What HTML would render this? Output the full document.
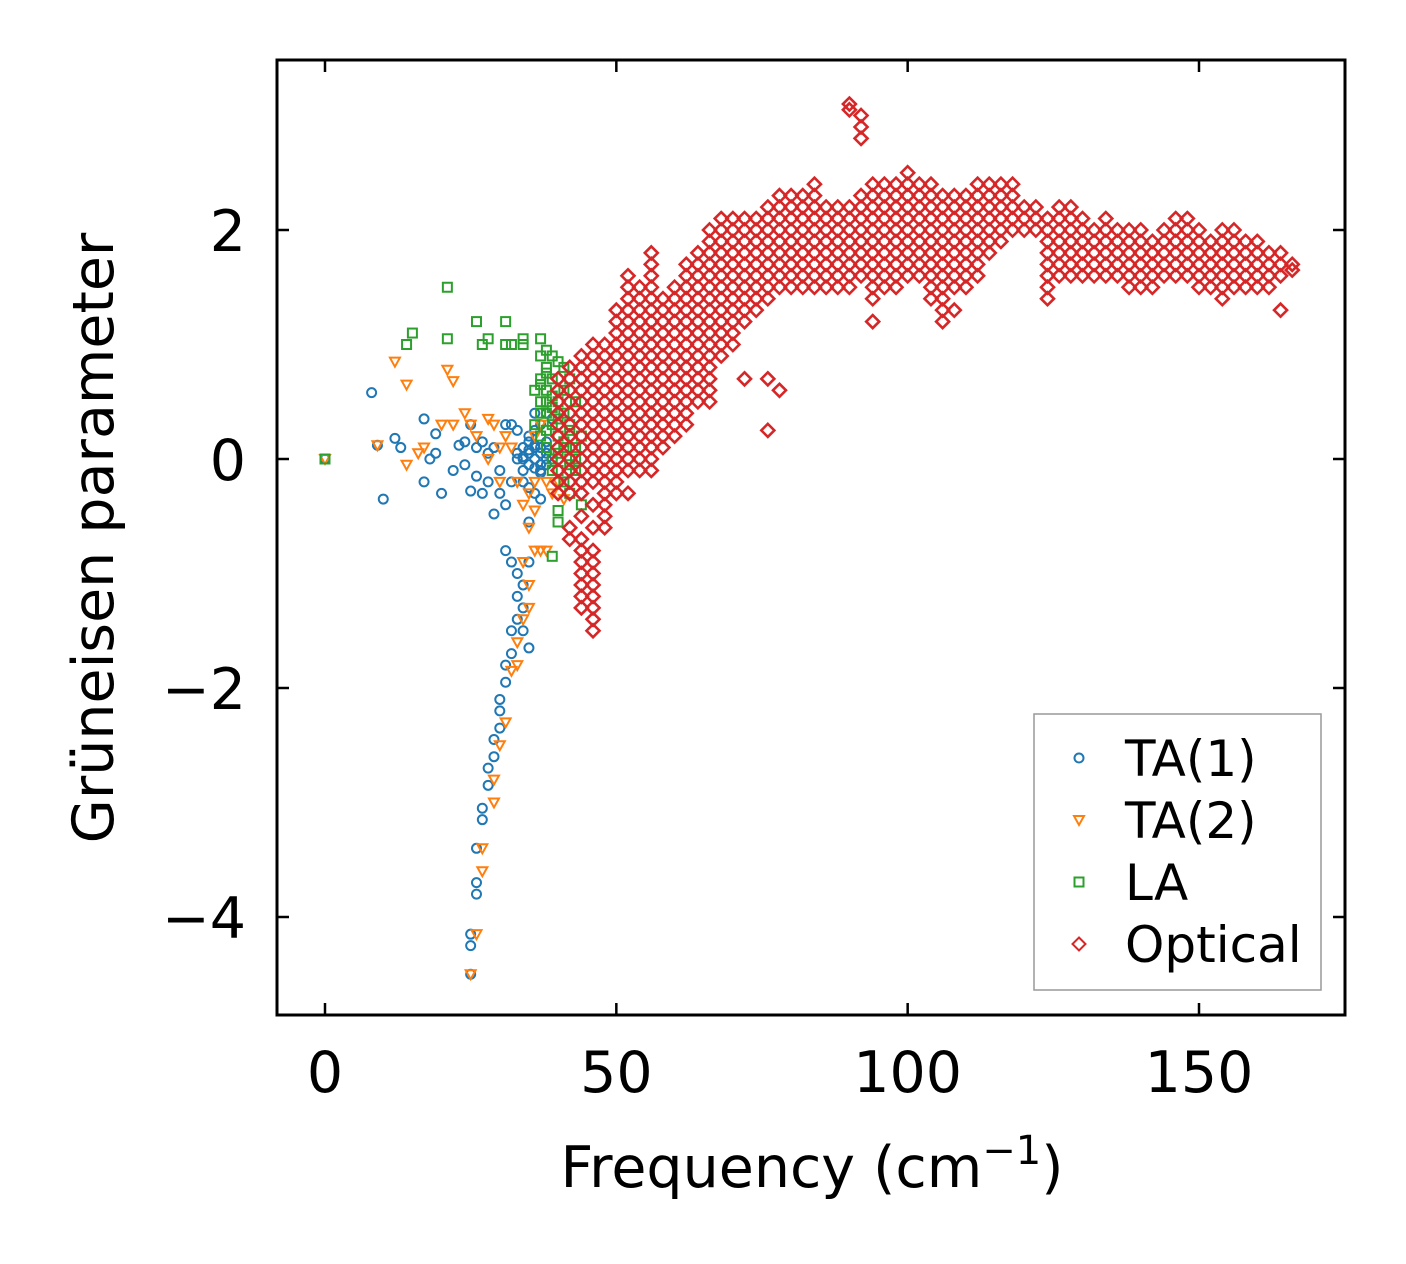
<!DOCTYPE html>
<html><head><meta charset="utf-8">
<style>
html,body{margin:0;padding:0;background:#fff;}
svg{display:block;font-family:"DejaVu Sans","Liberation Sans",sans-serif;}
</style></head>
<body>
<svg id="chart" width="1406" height="1264" viewBox="0 0 1406 1264" xmlns="http://www.w3.org/2000/svg">
<rect x="0" y="0" width="1406" height="1264" fill="#fff"/>
<g id="marks"></g>
<g id="axes"></g>
</svg>
<script>
// ---- data ----
const xTicks = [0, 50, 100, 150];
const yTicks = [2, 0, -2, -4];
const seriesNames = ["TA(1)", "TA(2)", "LA", "Optical"];

const ta1X = [0,8,9,10,12,13,17,17,18,19,19,20,22,23,24,24,25,25,26,26,27,27,28,28,29,29,30,30,31,31,32,32,33,33,34,34,35,35,36,36,37,37,38,38,35,
  31,32,33,33,34,33,32,32,31,31,30,30,30,29,29,28,28,27,27,26,26,26,25,25,25,34,35,35,34,36,37,35,34,
  33,34,35,36,37,38,39,36,37,38,35,36,37,38,39,34,35,36,37,38];
const ta1Y = [0,0.58,0.12,-0.35,0.18,0.1,0.35,-0.2,0,0.22,0.05,-0.3,-0.1,0.12,0.15,-0.05,-0.28,0.3,0.1,-0.15,-0.3,0.15,-0.2,0.05,-0.48,0.1,-0.3,-0.1,0.3,-0.4,0.3,-0.2,0.25,0,0.1,-0.1,0.05,-0.05,0,0.4,0.1,-0.1,0,0.05,-0.55,
  -0.8,-0.9,-1.0,-1.2,-1.3,-1.4,-1.5,-1.7,-1.8,-1.95,-2.1,-2.2,-2.35,-2.45,-2.6,-2.7,-2.85,-3.05,-3.15,-3.4,-3.7,-3.8,-4.25,-4.5,-4.15,-1.1,-1.65,-0.9,-1.5,0.1,-0.05,0.15,0.0,
  0.05,0.02,0.08,0.12,0.05,0.1,0.0,-0.08,-0.12,-0.05,0.2,0.25,0.3,0.15,0.35,-0.2,-0.25,-0.3,-0.35,0.4];

const ta2X = [0,9,12,14,14,16,17,20,21,22,22,24,25,26,28,28,29,30,30,31,32,33,34,35,35,36,36,37,38,34,35,35,34,33,33,32,31,30,29,29,27,27,26,25,36,37,38,39,40,41,36];
const ta2Y = [0,0.12,0.85,0.65,-0.05,0.05,0.1,0.3,0.78,0.68,0.3,0.4,0.3,0.2,0.35,0,0.3,0.1,-0.2,0.2,0.1,-0.2,-0.4,-0.3,-0.6,-0.45,-0.8,-0.8,-0.8,-0.9,-1.1,-1.3,-1.4,-1.6,-1.8,-1.85,-2.3,-2.5,-2.8,-3.0,-3.4,-3.6,-4.15,-4.5,0.2,0.3,-0.2,-0.3,-0.2,-0.35,-0.2];

const laX = [0,14,15,21,21,26,27,28,31,31,32,34,34,37,37,38,39,40,38,37,36,37,38,39,40,41,39,40,41,42,40,41,42,43,42,40,40,44,39,38,39,40,41,42,43,43,39,38,44,42,41,36,37,38,39,40,41,42,43,37,38,39,37,38];
const laY = [0,1.0,1.1,1.5,1.05,1.2,1.0,1.05,1.2,1.0,1.0,1.05,1.0,1.05,0.9,0.95,0.9,0.85,0.8,0.7,0.6,0.5,0.6,0.7,0.5,0.4,0.3,0.2,0.1,0,-0.1,-0.2,0.3,0.1,-0.3,-0.45,-0.55,-0.4,-0.85,0.4,0,0.05,0.6,0.7,0.5,-0.1,-0.1,0.1,0.2,-0.05,0.8,0.3,0.2,0.25,0.45,0.35,0.15,0.25,0.0,0.65,0.75,0.55,0.4,0.5];

const opticalX = [40,42,44,46,48,50,52,54,56,58,60,62,64,66,68,70,72,74,76,78,80,82,84,86,88,90,92,94,96,98,100,102,104,106,108,110,112,114,116,118,120,122,124,126,128,130,132,134,136,138,140,142,144,146,148,150,152,154,156,158,160,162,164,166];
const opticalY = [
 [-0.3,-0.2,-0.1,0,0.1,0.2,0.3,0.4,0.5,0.6,0.7],
 [-0.7,-0.6,-0.3,-0.2,-0.1,0,0.1,0.2,0.3,0.4,0.5,0.6,0.7,0.8],
 [-1.3,-1.2,-1.1,-1.0,-0.9,-0.8,-0.7,-0.5,-0.3,-0.2,-0.1,0,0.1,0.2,0.3,0.4,0.5,0.6,0.7,0.8,0.9],
 [-1.5,-1.4,-1.3,-1.2,-1.1,-1.0,-0.9,-0.8,-0.6,-0.4,-0.2,-0.1,0,0.1,0.2,0.3,0.4,0.5,0.6,0.7,0.8,0.9,1.0],
 [-0.6,-0.5,-0.4,-0.3,-0.2,-0.1,0,0.1,0.2,0.3,0.4,0.5,0.6,0.7,0.8,0.9,1.0],
 [-0.3,-0.2,-0.1,0,0.1,0.2,0.3,0.4,0.5,0.6,0.7,0.8,0.9,1.0,1.1,1.2,1.3],
 [-0.3,-0.1,0,0.1,0.2,0.3,0.4,0.5,0.6,0.7,0.8,0.9,1.0,1.1,1.2,1.3,1.4,1.5,1.6],
 [-0.1,0,0.1,0.2,0.3,0.4,0.5,0.6,0.7,0.8,0.9,1.0,1.1,1.2,1.3,1.4,1.5],
 [-0.1,0,0.1,0.2,0.3,0.4,0.5,0.6,0.7,0.8,0.9,1.0,1.1,1.2,1.3,1.4,1.5,1.6,1.7,1.8],
 [0.1,0.2,0.3,0.4,0.5,0.6,0.7,0.8,0.9,1.0,1.1,1.2,1.3,1.4],
 [0.2,0.3,0.4,0.5,0.6,0.7,0.8,0.9,1.0,1.1,1.2,1.3,1.4,1.5],
 [0.3,0.4,0.5,0.6,0.7,0.8,0.9,1.0,1.1,1.2,1.3,1.4,1.5,1.6,1.7],
 [0.5,0.6,0.7,0.8,0.9,1.0,1.1,1.2,1.3,1.4,1.5,1.6,1.7,1.8],
 [0.5,0.6,0.7,0.8,0.9,1.0,1.1,1.2,1.3,1.4,1.5,1.6,1.7,1.8,1.9,2.0],
 [0.9,1.0,1.1,1.2,1.3,1.4,1.5,1.6,1.7,1.8,1.9,2.0,2.1],
 [1.0,1.1,1.2,1.3,1.4,1.5,1.6,1.7,1.8,1.9,2.0,2.1],
 [0.7,1.2,1.3,1.4,1.5,1.6,1.7,1.8,1.9,2.0,2.1],
 [1.3,1.4,1.5,1.6,1.7,1.8,1.9,2.0,2.1],
 [0.25,0.7,1.4,1.5,1.6,1.7,1.8,1.9,2.0,2.1,2.2],
 [0.6,1.5,1.6,1.7,1.8,1.9,2.0,2.1,2.2,2.3],
 [1.5,1.6,1.7,1.8,1.9,2.0,2.1,2.2,2.3],
 [1.5,1.6,1.7,1.8,1.9,2.0,2.1,2.2,2.3],
 [1.5,1.6,1.7,1.8,1.9,2.0,2.1,2.2,2.3,2.4],
 [1.5,1.6,1.7,1.8,1.9,2.0,2.1,2.2],
 [1.5,1.6,1.7,1.8,1.9,2.0,2.1,2.2],
 [1.5,1.6,1.7,1.8,1.9,2.0,2.1,2.2,3.1,3.05],
 [1.6,1.7,1.8,1.9,2.0,2.1,2.2,2.3,2.8,2.9,3.0],
 [1.2,1.4,1.5,1.6,1.7,1.8,1.9,2.0,2.1,2.2,2.3,2.4],
 [1.5,1.6,1.7,1.8,1.9,2.0,2.1,2.2,2.3,2.4],
 [1.5,1.6,1.7,1.8,1.9,2.0,2.1,2.2,2.3,2.4],
 [1.6,1.7,1.8,1.9,2.0,2.1,2.2,2.3,2.4,2.5],
 [1.6,1.7,1.8,1.9,2.0,2.1,2.2,2.3,2.4],
 [1.4,1.5,1.6,1.7,1.8,1.9,2.0,2.1,2.2,2.3,2.4],
 [1.2,1.3,1.4,1.5,1.6,1.7,1.8,1.9,2.0,2.1,2.2,2.3],
 [1.3,1.5,1.6,1.7,1.8,1.9,2.0,2.1,2.2,2.3],
 [1.5,1.6,1.7,1.8,1.9,2.0,2.1,2.2,2.3],
 [1.6,1.7,1.8,1.9,2.0,2.1,2.2,2.3,2.4],
 [1.8,1.9,2.0,2.1,2.2,2.3,2.4],
 [1.9,2.0,2.1,2.2,2.3,2.4],
 [2.0,2.1,2.2,2.3,2.4],
 [2.0,2.1,2.2],
 [2.0,2.1,2.2],
 [1.4,1.5,1.6,1.7,1.8,1.9,2.0,2.1],
 [1.6,1.7,1.8,1.9,2.0,2.1,2.2],
 [1.6,1.7,1.8,1.9,2.0,2.1,2.2],
 [1.6,1.7,1.8,1.9,2.0,2.1],
 [1.6,1.7,1.8,1.9,2.0],
 [1.6,1.7,1.8,1.9,2.0,2.1],
 [1.6,1.7,1.8,1.9,2.0],
 [1.5,1.6,1.7,1.8,1.9,2.0],
 [1.5,1.6,1.7,1.8,1.9,2.0],
 [1.5,1.6,1.7,1.8,1.9],
 [1.6,1.7,1.8,1.9,2.0],
 [1.6,1.7,1.8,1.9,2.0,2.1],
 [1.6,1.7,1.8,1.9,2.0,2.1],
 [1.5,1.6,1.7,1.8,1.9,2.0],
 [1.5,1.6,1.7,1.8,1.9],
 [1.4,1.5,1.6,1.7,1.8,1.9,2.0],
 [1.5,1.6,1.7,1.8,1.9,2.0],
 [1.5,1.6,1.7,1.8,1.9],
 [1.5,1.6,1.7,1.8,1.9],
 [1.5,1.6,1.7,1.8],
 [1.3,1.6,1.7,1.8],
 [1.65,1.7]
];

// ---- axes ----
const plot = {left:277, right:1345, top:60, bottom:1015};
const X = v => 325 + v * (1199 - 325) / 150;
const Y = v => 459 - v * (459 - 230) / 2;
const NS = "http://www.w3.org/2000/svg";
const marks = document.getElementById('marks');
const axes = document.getElementById('axes');
function mk(tag, attrs, parent){
  const e = document.createElementNS(NS, tag);
  for (const k in attrs) e.setAttribute(k, attrs[k]);
  parent.appendChild(e);
  return e;
}
const colors = ["#1f77b4","#ff7f0e","#2ca02c","#d62728"];
function marker(kind, cx, cy, parent, sw){
  let e;
  const w = sw || 2;
  if (kind === 0) e = mk('circle', {cx:cx, cy:cy, r:4.5, fill:'none', stroke:colors[0], 'stroke-width':w}, parent);
  else if (kind === 1) e = mk('polygon', {points:`${cx-5},${cy-4} ${cx+5},${cy-4} ${cx},${cy+5}`, fill:'none', stroke:colors[1], 'stroke-width':w}, parent);
  else if (kind === 2) e = mk('rect', {x:cx-4.5, y:cy-4.5, width:9, height:9, fill:'none', stroke:colors[2], 'stroke-width':w}, parent);
  else e = mk('polygon', {points:`${cx},${cy-6.5} ${cx+6.5},${cy} ${cx},${cy+6.5} ${cx-6.5},${cy}`, fill:'none', stroke:colors[3], 'stroke-width':w}, parent);
  return e;
}
const g1 = mk('g', {}, marks);


ta1X.forEach((x,i)=>{ const m = marker(0, X(x), Y(ta1Y[i]), g1);
  
   });
const g2 = mk('g', {}, marks);


ta2X.forEach((x,i)=>{ const m = marker(1, X(x), Y(ta2Y[i]), g2);
  
   });
const g3 = mk('g', {}, marks);


laX.forEach((x,i)=>{ const m = marker(2, X(x), Y(laY[i]), g3);
  
   });
const g4 = mk('g', {}, marks);


opticalX.forEach((x,i)=>{ opticalY[i].forEach(y=>{ const m = marker(3, X(x), Y(y), g4, 2.6);
  
   }); });

// frame
const fr = mk('rect', {x:plot.left, y:plot.top, width:plot.right-plot.left, height:plot.bottom-plot.top, fill:'none', stroke:'#000', 'stroke-width':3}, axes);


xTicks.forEach(t=>{
  const x = X(t);
  mk('line', {x1:x, x2:x, y1:plot.bottom, y2:plot.bottom-12, stroke:'#000','stroke-width':2.5}, axes);
  mk('line', {x1:x, x2:x, y1:plot.top, y2:plot.top+12, stroke:'#000','stroke-width':2.5}, axes);
  const tx = mk('text', {x:x, y:1092, 'font-size':57, 'text-anchor':'middle', fill:'#000'}, axes);
  tx.textContent = String(t);
  
  
});
yTicks.forEach(t=>{
  const y = Y(t);
  mk('line', {x1:plot.left, x2:plot.left+12, y1:y, y2:y, stroke:'#000','stroke-width':2.5}, axes);
  mk('line', {x1:plot.right, x2:plot.right-12, y1:y, y2:y, stroke:'#000','stroke-width':2.5}, axes);
  const tx = mk('text', {x:246, y:y+21, 'font-size':57, 'text-anchor':'end', fill:'#000'}, axes);
  tx.textContent = t < 0 ? '\u2212' + Math.abs(t) : String(t);
  
  
});
// titles
const xt = mk('text', {x:812, y:1187, 'font-size':57, 'text-anchor':'middle', fill:'#000'}, axes);
xt.innerHTML = 'Frequency (cm<tspan dy="-23" font-size="40">\u22121</tspan><tspan dy="23">)</tspan>';


const yt = mk('text', {x:0, y:0, 'font-size':57, 'text-anchor':'middle', fill:'#000', transform:'translate(113,538) rotate(-90)'}, axes);
yt.textContent = 'Grüneisen parameter';


// legend
const lg = mk('g', {}, axes);


mk('rect', {x:1034, y:714, width:287, height:276, fill:'#fff', stroke:'#999', 'stroke-width':1.5}, lg);
seriesNames.forEach((n,i)=>{
  const yy = 758 + i*62;
  const entry = mk('g', {}, lg);
  
  
  marker(i, 1079, yy, entry);
  const tx = mk('text', {x:1125, y:yy+18, 'font-size':50, fill:'#000'}, entry);
  tx.textContent = n;
});
</script>
</body></html>
